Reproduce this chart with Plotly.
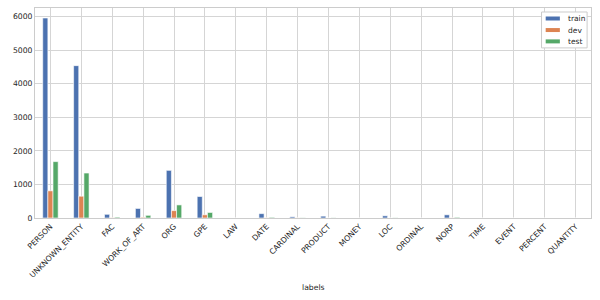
import plotly.graph_objects as go

labels = ["PERSON", "UNKNOWN_ENTITY", "FAC", "WORK_OF_ART", "ORG", "GPE", "LAW", "DATE",
          "CARDINAL", "PRODUCT", "MONEY", "LOC", "ORDINAL", "NORP", "TIME", "EVENT",
          "PERCENT", "QUANTITY"]
train = [5960, 4540, 110, 285, 1420, 640, 0, 130, 35, 55, 0, 65, 0, 95, 0, 0, 0, 0]
dev = [810, 650, 5, 20, 220, 95, 0, 5, 3, 0, 0, 0, 0, 3, 0, 0, 0, 0]
test = [1680, 1340, 25, 80, 390, 165, 0, 20, 5, 5, 0, 5, 0, 20, 0, 0, 0, 0]

series = [("train", train, "#4C72B0"), ("dev", dev, "#DD8452"), ("test", test, "#55A868")]

fig = go.Figure()
for name, vals, col in series:
    fig.add_trace(go.Bar(x=labels, y=vals, name=name, showlegend=False,
                         marker=dict(color=col, line=dict(color="white", width=0.6))))

font = dict(family="DejaVu Sans", size=7.7, color="#262626")

# custom compact legend (matplotlib-like)
shapes = [dict(type="rect", xref="paper", yref="paper", x0=0.911, x1=0.993, y0=0.810, y1=0.981,
               line=dict(color="#cccccc", width=1), fillcolor="white", layer="above")]
annotations = []
centers = [0.950, 0.895, 0.841]
for (name, vals, col), yc in zip(series, centers):
    shapes.append(dict(type="rect", xref="paper", yref="paper", x0=0.9185, x1=0.944,
                       y0=yc - 0.0095, y1=yc + 0.0095, line=dict(width=0),
                       fillcolor=col, layer="above"))
    annotations.append(dict(text=name, xref="paper", yref="paper", x=0.955, y=yc,
                            xanchor="left", yanchor="middle", showarrow=False,
                            font=dict(family="DejaVu Sans", size=7.5, color="#262626")))
annotations.append(dict(text="labels", xref="paper", yref="paper", x=0.5, y=-0.329,
                        xanchor="center", yanchor="middle", showarrow=False, font=font))

fig.update_layout(
    width=600, height=300,
    margin=dict(l=35, r=9, t=8, b=82),
    paper_bgcolor="white", plot_bgcolor="white",
    barmode="group", bargap=0.5, bargroupgap=0,
    font=font,
    showlegend=False,
    hovermode=False,
    shapes=shapes,
    annotations=annotations,
    xaxis=dict(tickangle=-45, showgrid=True, gridcolor="#d5d5d5", gridwidth=1,
               showline=True, linecolor="#cccccc", linewidth=1, mirror=True,
               ticks="", tickfont=font, range=[-0.5, 17.5], automargin=False),
    yaxis=dict(range=[0, 5960 * 1.05], tickvals=[0, 1000, 2000, 3000, 4000, 5000, 6000],
               showgrid=True, gridcolor="#d5d5d5", gridwidth=1, zeroline=False,
               showline=True, linecolor="#cccccc", linewidth=1, mirror=True,
               ticks="", tickfont=font, automargin=False),
)

fig.write_html("out.html", config={"displayModeBar": False},
               post_script="document.body.style.margin='0';")
